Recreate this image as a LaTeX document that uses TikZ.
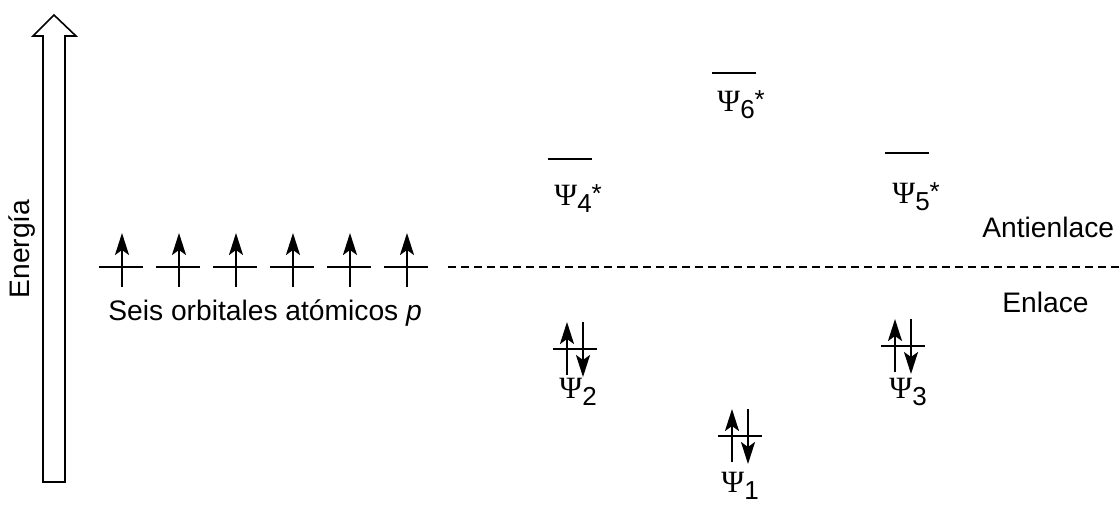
\documentclass[tikz,border=0pt]{standalone}
\usepackage{fontspec}
\setmainfont{Liberation Sans}
\newfontfamily\serifps{Liberation Serif}
\usetikzlibrary{arrows.meta}
\tikzset{
  lvl/.style={line width=0.8pt},
  spin/.style={line width=1.1pt,-{Stealth[length=11pt,width=7pt,inset=2.5pt]}},
  sep/.style={line width=0.8pt,dash pattern=on 4pt off 2.5pt},
  txt/.style={font=\fontsize{14.1}{17}\selectfont,inner sep=0pt},
  psi/.style={font=\serifps\fontsize{15.5}{17}\selectfont,inner sep=0pt,anchor=base west},
}
\newcommand{\psilab}[2]{Ψ\raisebox{-3.5pt}{\fontspec{Liberation Sans}\fontsize{13}{14}\selectfont #1}\raisebox{1.5pt}{\fontspec{Liberation Sans}\fontsize{13}{14}\selectfont #2}}
\newcommand{\orb}[3]{%
  \coordinate (#1) at (#2,#3);
  \draw[lvl] (#1) ++(-22,0) -- ++(44,0);}
\newcommand{\pair}[1]{%
  \draw[spin] (#1) ++(-8,26) -- ++(0,-53);
  \draw[spin] (#1) ++(8,-27) -- ++(0,55);}
\begin{document}
\begin{tikzpicture}[x=0.5pt,y=-0.5pt]
  \useasboundingbox (0,0) rectangle (1120,505);
  % energy axis
  \draw[line width=0.8pt] (43,482) -- (43,36) -- (33,36) -- (54,15)
    -- (76,36) -- (65,36) -- (65,482) -- cycle;
  \node[txt,rotate=90] (energia) at (22,249) {Energía};
  % six p orbitals
  \foreach \i in {0,...,5}{
    \orb{p\i}{121+57*\i}{267}
    \draw[spin] (p\i) ++(1,20) -- ++(0,-54);
  }
  \node[txt,anchor=base west] (aos) at (108,320) {Seis orbitales atómicos \textit{p}};
  % bonding / antibonding separation
  \coordinate (sepL) at (448,267);
  \coordinate (sepR) at (1120,267);
  \draw[sep] (sepL) -- (sepR);
  \node[txt,anchor=base west] (anti) at (982,237) {Antienlace};
  \node[txt,anchor=base west] (enl) at (1002,312) {Enlace};
  % molecular orbitals
  \orb{m6}{734}{73}
  \orb{m4}{570}{159}
  \orb{m5}{907}{153}
  \orb{m2}{575}{349}
  \orb{m3}{903}{346}
  \orb{m1}{740}{436}
  \pair{m2}
  \pair{m3}
  \pair{m1}
  \node[psi] (l6) at (717,111) {\psilab{6}{*}};
  \node[psi] (l4) at (554,205) {\psilab{4}{*}};
  \node[psi] (l5) at (892,203) {\psilab{5}{*}};
  \node[psi] (l2) at (559,398) {\psilab{2}{}};
  \node[psi] (l3) at (889,398) {\psilab{3}{}};
  \node[psi] (l1) at (721,492) {\psilab{1}{}};
\end{tikzpicture}
\end{document}
